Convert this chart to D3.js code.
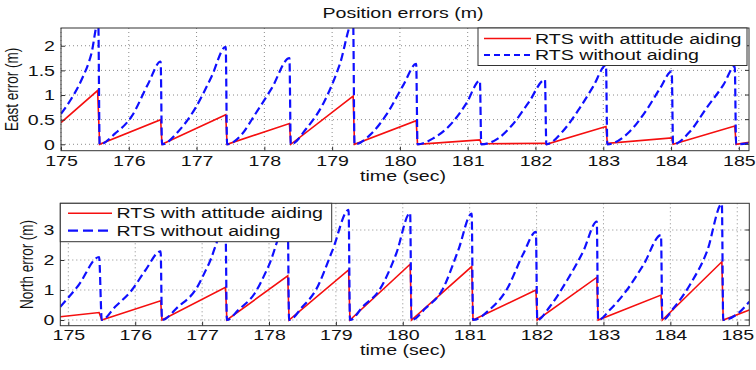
<!DOCTYPE html>
<html>
<head>
<meta charset="utf-8">
<script src="https://cdn.jsdelivr.net/npm/d3@7"></script>
<style>
  body { margin: 0; background: #fff; }
  svg { display: block; }
  text { font-family: "Liberation Sans", Arial, sans-serif; fill: #111; }
</style>
</head>
<body>
<div id="chart"><svg></svg></div>
<script>
// ---- data ----
var xTicks = [175, 176, 177, 178, 179, 180, 181, 182, 183, 184, 185];
var eastTicks = [0, 0.5, 1, 1.5, 2];
var northTicks = [0, 1, 2, 3];
var seriesNames = ["RTS with attitude aiding", "RTS without aiding"];

// [time (s), error (m)]
var eastAided = [
  [175.0, 0.44], [175.54, 1.09], [175.57, 0], [176.47, 0.5], [176.49, 0],
  [177.43, 0.6], [177.45, 0], [178.37, 0.42], [178.39, 0], [179.31, 0.98],
  [179.33, 0], [180.24, 0.48], [180.26, 0], [181.18, 0.09], [181.2, 0.01],
  [182.14, 0.02], [182.16, 0], [183.04, 0.36], [183.06, 0.02], [184.01, 0.13],
  [184.03, 0], [184.94, 0.37], [184.96, 0], [185.15, 0.04]
];
var eastUnaided = [
  [175.0, 0.62], [175.15, 0.92], [175.3, 1.3], [175.45, 1.85], [175.55, 2.5], [175.57, 0],
  [175.8, 0.22], [176.04, 0.56], [176.29, 1.24], [176.47, 1.68], [176.49, 0],
  [176.73, 0.26], [176.98, 0.73], [177.22, 1.37], [177.43, 1.98], [177.45, 0],
  [177.66, 0.19], [177.86, 0.6], [178.11, 1.14], [178.37, 1.75], [178.39, 0],
  [178.62, 0.32], [178.87, 0.83], [179.11, 1.61], [179.31, 2.5], [179.33, 0],
  [179.56, 0.19], [179.8, 0.6], [180.05, 1.2], [180.24, 1.63], [180.26, 0],
  [180.49, 0.12], [180.74, 0.39], [180.98, 0.83], [181.18, 1.29], [181.2, 0],
  [181.45, 0.12], [181.65, 0.38], [181.9, 0.85], [182.14, 1.31], [182.16, 0],
  [182.4, 0.26], [182.65, 0.73], [182.85, 1.17], [183.04, 1.6], [183.06, 0],
  [183.39, 0.26], [183.64, 0.7], [183.84, 1.14], [184.01, 1.48], [184.03, 0],
  [184.28, 0.26], [184.52, 0.73], [184.77, 1.2], [184.94, 1.58], [184.96, 0],
  [185.15, 0.02]
];
var northAided = [
  [174.88, 0.11], [175.46, 0.25], [175.5, 0], [176.38, 0.64], [176.4, 0],
  [177.35, 1.09], [177.37, 0], [178.28, 1.47], [178.3, 0], [179.19, 1.67],
  [179.21, 0], [180.11, 1.86], [180.13, 0], [181.03, 1.78], [181.05, 0],
  [181.99, 1.0], [182.01, 0], [182.9, 1.42], [182.92, 0], [183.86, 0.83],
  [183.88, 0], [184.77, 1.94], [184.79, 0], [185.18, 0.33]
];
var northUnaided = [
  [174.88, 0.44], [175.15, 1.15], [175.46, 2.1], [175.5, 0],
  [175.7, 0.44], [175.95, 1.0], [176.15, 1.65], [176.38, 2.29], [176.4, 0],
  [176.64, 0.44], [176.9, 1.0], [177.1, 1.87], [177.35, 3.1], [177.37, 0],
  [177.54, 0.33], [177.79, 0.9], [177.99, 1.78], [178.28, 3.3], [178.3, 0],
  [178.5, 0.44], [178.7, 1.0], [178.95, 2.33], [179.19, 3.67], [179.21, 0],
  [179.4, 0.44], [179.65, 1.0], [179.9, 2.2], [180.11, 3.57], [180.13, 0],
  [180.34, 0.39], [180.59, 1.0], [180.83, 2.33], [181.03, 3.55], [181.05, 0],
  [181.3, 0.35], [181.55, 1.0], [181.8, 2.2], [181.99, 2.94], [182.01, 0],
  [182.2, 0.45], [182.45, 1.3], [182.7, 2.3], [182.9, 3.28], [182.92, 0],
  [183.1, 0.35], [183.35, 1.0], [183.6, 1.85], [183.86, 2.83], [183.88, 0],
  [184.05, 0.4], [184.3, 1.2], [184.55, 2.3], [184.77, 3.87], [184.79, 0],
  [185.0, 0.2], [185.18, 0.61]
];

var RED = "#f50f0f", BLUE = "#0f0fff";
var SX = 1.4; // the reference text is stretched horizontally

var svg = d3.select("#chart svg").attr("width", 756).attr("height", 370);

svg.append("text")
  .attr("transform", "translate(403,18) scale(" + SX + ",1)")
  .attr("text-anchor", "middle")
  .style("font-size", "14px")
  .text("Position errors (m)");

function drawPanel(p) {
  var x = d3.scaleLinear().domain(p.xDomain).range([p.left, p.right]);
  var y = d3.scaleLinear().domain(p.yDomain).range([p.bottom, p.top]);
  var g = svg.append("g");
  var w = p.right - p.left, h = p.bottom - p.top;

  g.append("rect").attr("x", p.left).attr("y", p.top)
    .attr("width", w).attr("height", h).attr("fill", "#fff");

  // dotted grid
  g.selectAll(".vgrid").data(xTicks).enter().append("line")
    .attr("x1", function (d) { return x(d); }).attr("x2", function (d) { return x(d); })
    .attr("y1", p.top).attr("y2", p.bottom)
    .attr("stroke", "#8a8a8a").attr("stroke-dasharray", "1,3");
  g.selectAll(".hgrid").data(p.yTicks).enter().append("line")
    .attr("x1", p.left).attr("x2", p.right)
    .attr("y1", function (d) { return y(d); }).attr("y2", function (d) { return y(d); })
    .attr("stroke", "#8a8a8a").attr("stroke-dasharray", "1,3");

  var clipId = "clip" + p.id;
  svg.append("clipPath").attr("id", clipId).append("rect")
    .attr("x", p.left).attr("y", p.top).attr("width", w).attr("height", h);

  var plot = g.append("g").attr("clip-path", "url(#" + clipId + ")");
  var redLine = d3.line().x(function (d) { return x(d[0]); }).y(function (d) { return y(d[1]); });
  var blueLine = d3.line().curve(d3.curveMonotoneX)
    .x(function (d) { return x(d[0]); }).y(function (d) { return y(d[1]); });

  plot.append("path").attr("d", redLine(p.aided))
    .attr("fill", "none").attr("stroke", RED).attr("stroke-width", 1.6);
  plot.append("path").attr("d", blueLine(p.unaided))
    .attr("fill", "none").attr("stroke", BLUE).attr("stroke-width", 2.2)
    .attr("stroke-dasharray", "8,4");

  // axes
  var xAxis = g.append("g").attr("transform", "translate(0," + p.bottom + ")")
    .call(d3.axisBottom(x).tickValues(xTicks).tickFormat(d3.format("d"))
      .tickSizeInner(-4).tickSizeOuter(0).tickPadding(4));
  xAxis.select(".domain").remove();
  xAxis.selectAll("line").attr("stroke", "#333");
  xAxis.selectAll("text")
    .attr("y", 0).attr("dy", null)
    .attr("transform", "translate(0," + p.xTickBase + ") scale(" + SX + ",1)")
    .style("font-size", "14px").style("fill", "#111");

  var yAxis = g.append("g").attr("transform", "translate(" + p.left + ",0)")
    .call(d3.axisLeft(y).tickValues(p.yTicks).tickFormat(d3.format("~g"))
      .tickSizeInner(-4).tickSizeOuter(0));
  yAxis.select(".domain").remove();
  yAxis.selectAll("line").attr("stroke", "#333");
  yAxis.selectAll("text")
    .attr("x", 0).attr("dy", "0.35em")
    .attr("transform", "translate(-6,0) scale(" + SX + ",1)")
    .style("font-size", "14px").style("fill", "#111");

  // right-side ticks
  g.selectAll(".rtick").data(p.yTicks).enter().append("line")
    .attr("x1", p.right - 4).attr("x2", p.right)
    .attr("y1", function (d) { return y(d); }).attr("y2", function (d) { return y(d); })
    .attr("stroke", "#333");

  g.append("rect").attr("x", p.left).attr("y", p.top)
    .attr("width", w).attr("height", h)
    .attr("fill", "none").attr("stroke", "#333").attr("stroke-width", 1);

  g.append("text")
    .attr("transform", "translate(403," + p.xLabelBase + ") scale(" + SX + ",1)")
    .attr("text-anchor", "middle").style("font-size", "14px")
    .text("time (sec)");

  g.append("text")
    .attr("transform", "translate(" + p.yLabelX + "," + ((p.top + p.bottom) / 2) + ") scale(" + SX + ",1) rotate(-90)")
    .attr("text-anchor", "middle").style("font-size", "13.5px")
    .text(p.yLabel);

  // legend
  var L = p.legend;
  var lg = g.append("g");
  lg.append("rect").attr("x", L.x).attr("y", L.y).attr("width", L.w).attr("height", L.h)
    .attr("fill", "#fff").attr("stroke", "#333");
  seriesNames.forEach(function (name, i) {
    var yy = L.y + L.rows[i];
    lg.append("line").attr("x1", L.lineX0).attr("x2", L.lineX1).attr("y1", yy).attr("y2", yy)
      .attr("stroke", i === 0 ? RED : BLUE)
      .attr("stroke-width", i === 0 ? 1.6 : 2.2)
      .attr("stroke-dasharray", i === 0 ? null : L.dash);
    lg.append("text")
      .attr("transform", "translate(" + L.textX + "," + yy + ") scale(" + SX + ",1)")
      .attr("dy", "0.36em").style("font-size", "14px")
      .text(name);
  });
}

drawPanel({
  id: "east", left: 61, right: 749, top: 28, bottom: 150.7,
  xDomain: [175, 185.15], yDomain: [-0.13, 2.36], yTicks: eastTicks,
  aided: eastAided, unaided: eastUnaided,
  xTickBase: 15, xLabelBase: 181, yLabelX: 18, yLabel: "East error (m)",
  legend: { x: 478, y: 28, w: 269, h: 37.5, rows: [10.5, 27], lineX0: 484, lineX1: 531, textX: 535, dash: "6,4" }
});

drawPanel({
  id: "north", left: 60.3, right: 749.3, top: 203.3, bottom: 325.7,
  xDomain: [174.88, 185.18], yDomain: [-0.19, 3.89], yTicks: northTicks,
  aided: northAided, unaided: northUnaided,
  xTickBase: 14.5, xLabelBase: 355, yLabelX: 33, yLabel: "North error (m)",
  legend: { x: 60.3, y: 203.3, w: 271.4, h: 38.4, rows: [10, 27.4], lineX0: 68, lineX1: 112, textX: 116.5, dash: "10,5" }
});
</script>
</body>
</html>
